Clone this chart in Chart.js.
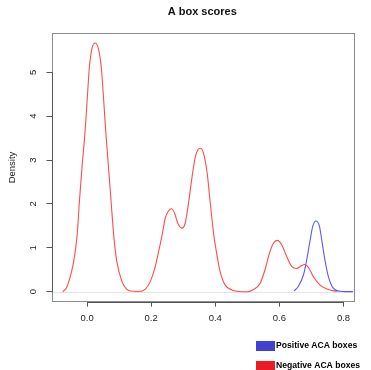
<!DOCTYPE html>
<html>
<head>
<meta charset="utf-8">
<title>A box scores</title>
<script src="https://cdn.jsdelivr.net/npm/chart.js@4.4.1/dist/chart.umd.min.js"></script>
<style>
  html, body { margin: 0; padding: 0; background: #ffffff; }
  canvas { display: block; }
</style>
</head>
<body>
<canvas id="c" width="371" height="370"></canvas>
<script>
// Kernel density estimates of the A box scores
const negX = [-0.076, -0.065, -0.057, -0.042, -0.031, -0.024, -0.016, -0.007, 0.000, 0.007, 0.0156, 0.026,
  0.036, 0.0445, 0.052, 0.059, 0.067, 0.075, 0.083, 0.093, 0.109, 0.122, 0.135, 0.160, 0.182, 0.197,
  0.211, 0.223, 0.234, 0.244, 0.254, 0.263, 0.273, 0.283, 0.296, 0.306, 0.317, 0.327, 0.337, 0.346,
  0.354, 0.363, 0.374, 0.384, 0.394, 0.405, 0.415, 0.431, 0.452, 0.475, 0.500, 0.519, 0.540, 0.555,
  0.569, 0.581, 0.594, 0.607, 0.623, 0.639, 0.654, 0.668, 0.678, 0.690, 0.706, 0.727, 0.753, 0.779];
const negY = [0.00, 0.08, 0.23, 0.68, 1.29, 2.05, 2.82, 3.58, 4.34, 5.10, 5.56, 5.67,
  5.52, 5.10, 4.34, 3.58, 2.82, 2.05, 1.29, 0.68, 0.23, 0.07, 0.016, 0.005, 0.06, 0.23,
  0.53, 0.91, 1.29, 1.68, 1.84, 1.89, 1.79, 1.56, 1.45, 1.56, 2.05, 2.59, 3.05, 3.24,
  3.27, 3.16, 2.74, 2.05, 1.37, 0.84, 0.46, 0.15, 0.04, 0.005, 0.00, 0.05, 0.19, 0.50,
  0.88, 1.10, 1.17, 1.07, 0.80, 0.57, 0.53, 0.59, 0.62, 0.56, 0.34, 0.15, 0.05, 0.005];

const posX = [0.646, 0.659, 0.675, 0.685, 0.696, 0.704, 0.714, 0.725, 0.732, 0.742, 0.753, 0.768, 0.789, 0.810, 0.850];
const posY = [0.02, 0.12, 0.38, 0.72, 1.18, 1.49, 1.61, 1.49, 1.18, 0.72, 0.34, 0.08, 0.01, 0.002, 0.00];

const xTicks = [0.0, 0.2, 0.4, 0.6, 0.8];
const yTicks = [0, 1, 2, 3, 4, 5];
const xRange = [-0.111, 0.8296];
const yRange = [-0.228, 5.89];

const legendLabels = ['Positive ACA boxes', 'Negative ACA boxes'];
const legendColors = ['#4242d2', '#ec1c24'];

const FONT = '"Liberation Sans", Arial, Helvetica, sans-serif';

function points(xs, ys) {
  return xs.map((x, i) => ({ x: x, y: ys[i] }));
}

// Plot frame, zero line, axis spines and the legend under the plot
const framePlugin = {
  id: 'frame',
  beforeDatasetsDraw(chart) {
    const { ctx, chartArea: a, scales: { x, y } } = chart;
    ctx.save();
    ctx.lineWidth = 1;
    // zero line
    const y0 = Math.round(y.getPixelForValue(0)) + 0.5;
    ctx.strokeStyle = '#e4e4e4';
    ctx.beginPath();
    ctx.moveTo(a.left, y0);
    ctx.lineTo(a.right, y0);
    ctx.stroke();
    // frame
    ctx.strokeStyle = '#8c8c8c';
    ctx.strokeRect(Math.round(a.left) + 0.5, Math.round(a.top) + 0.5,
      Math.round(a.right - a.left), Math.round(a.bottom - a.top));
    // axis spines between first and last tick
    ctx.strokeStyle = '#555555';
    const bx = Math.round(a.bottom) + 0.5;
    ctx.beginPath();
    ctx.moveTo(x.getPixelForValue(xTicks[0]), bx);
    ctx.lineTo(x.getPixelForValue(xTicks[xTicks.length - 1]), bx);
    const lx = Math.round(a.left) + 0.5;
    ctx.moveTo(lx, y.getPixelForValue(yTicks[0]));
    ctx.lineTo(lx, y.getPixelForValue(yTicks[yTicks.length - 1]));
    ctx.stroke();
    ctx.restore();
  },
  afterDraw(chart) {
    const ctx = chart.ctx;
    ctx.save();
    ctx.font = 'bold 8.6px ' + FONT;
    ctx.textBaseline = 'middle';
    ctx.textAlign = 'left';
    legendLabels.forEach((label, i) => {
      const top = 341 + i * 20;
      ctx.fillStyle = legendColors[i];
      ctx.fillRect(256, top, 19, 10);
      ctx.fillStyle = '#000000';
      ctx.fillText(label, 276, top + 4.8);
    });
    ctx.restore();
  }
};

const axisGrid = {
  display: true,
  drawOnChartArea: false,
  drawTicks: true,
  tickLength: 5,
  color: '#555555',
  tickColor: '#555555',
  tickWidth: 1
};

new Chart(document.getElementById('c'), {
  type: 'line',
  data: {
    datasets: [
      {
        label: 'Negative ACA boxes',
        data: points(negX, negY),
        borderColor: 'rgba(255, 45, 45, 0.85)',
        borderWidth: 1.1,
        pointRadius: 0,
        fill: false,
        cubicInterpolationMode: 'monotone'
      },
      {
        label: 'Positive ACA boxes',
        data: points(posX, posY),
        borderColor: 'rgba(60, 60, 255, 0.85)',
        borderWidth: 1.1,
        pointRadius: 0,
        fill: false,
        cubicInterpolationMode: 'monotone'
      }
    ]
  },
  options: {
    responsive: false,
    animation: false,
    devicePixelRatio: 1,
    layout: { padding: { left: 0, right: 18, top: 0, bottom: 0 } },
    plugins: {
      legend: { display: false },
      tooltip: { enabled: false },
      title: {
        display: true,
        text: 'A box scores',
        fullSize: false,
        color: '#111111',
        font: { family: FONT, size: 11, weight: 'bold' },
        padding: { top: 5, bottom: 15.1 }
      }
    },
    scales: {
      x: {
        type: 'linear',
        min: xRange[0],
        max: xRange[1],
        afterBuildTicks: s => { s.ticks = xTicks.map(v => ({ value: v })); },
        afterFit: s => { s.height = 68.3; },
        border: { display: false },
        grid: axisGrid,
        ticks: {
          autoSkip: false,
          maxRotation: 0,
          minRotation: 0,
          padding: 6,
          color: '#222222',
          font: { family: FONT, size: 9.5 },
          callback: v => Number(v).toFixed(1)
        }
      },
      y: {
        type: 'linear',
        min: yRange[0],
        max: yRange[1],
        afterBuildTicks: s => { s.ticks = yTicks.map(v => ({ value: v })); },
        afterFit: s => { s.width = 51.5; },
        border: { display: false },
        grid: axisGrid,
        title: {
          display: true,
          text: 'Density',
          color: '#222222',
          font: { family: FONT, size: 9.5 },
          padding: { top: 7, bottom: 0 }
        },
        ticks: {
          autoSkip: false,
          minRotation: 90,
          maxRotation: 90,
          crossAlign: 'center',
          padding: 10.9,
          color: '#222222',
          font: { family: FONT, size: 9.5 },
          callback: v => String(v)
        }
      }
    }
  },
  plugins: [framePlugin]
});
</script>
</body>
</html>
